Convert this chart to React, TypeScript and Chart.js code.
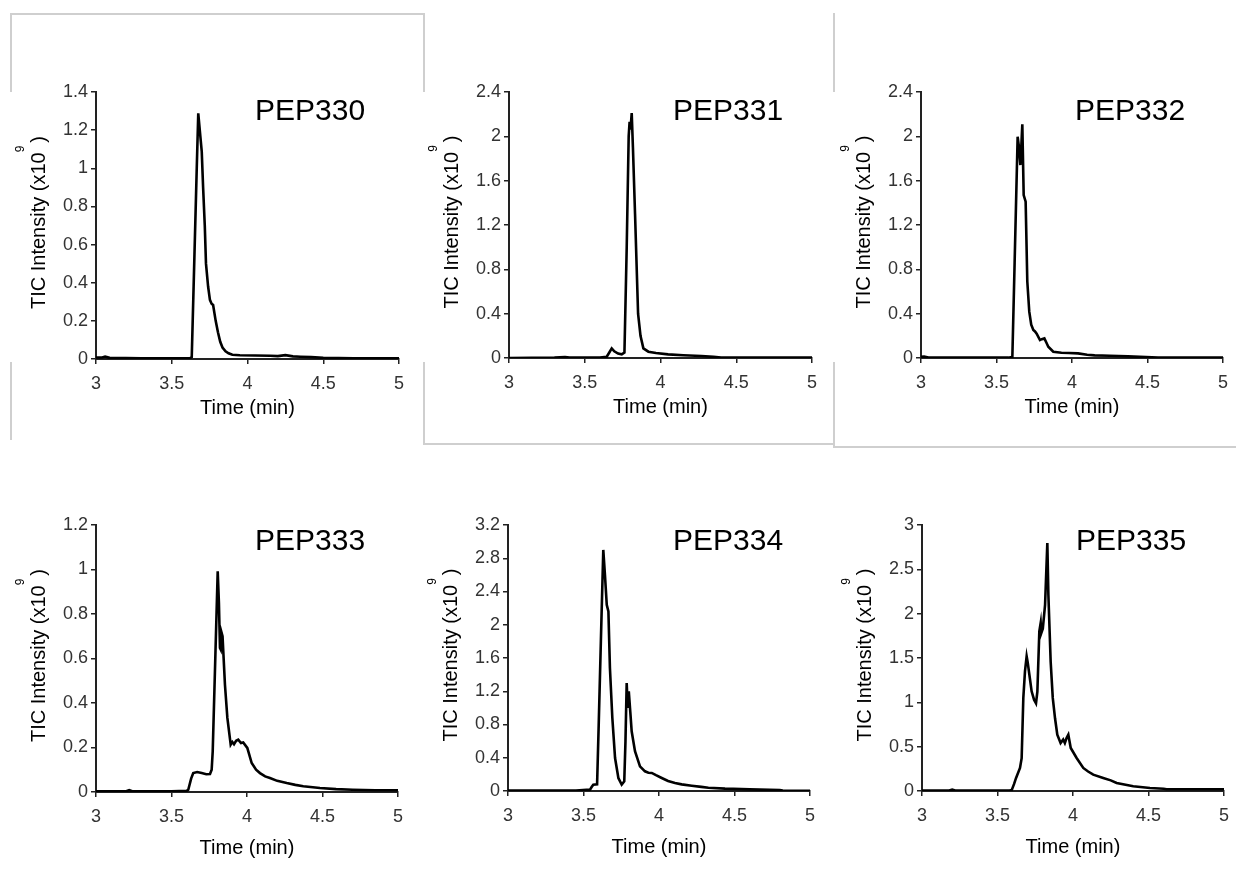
import React, { useEffect, useRef } from "react";
import { Chart, registerables } from "chart.js";

Chart.register(...registerables);

// ---------- data ----------
const X_TICKS = [3, 3.5, 4, 4.5, 5];

const T330 = [3.0, 3.04, 3.06, 3.09, 3.3, 3.5, 3.62, 3.632, 3.65, 3.665, 3.675, 3.685, 3.698, 3.707, 3.718, 3.726, 3.74, 3.752, 3.763, 3.773, 3.79, 3.805, 3.82, 3.835, 3.855, 3.875, 3.9, 3.95, 4.05, 4.15, 4.2, 4.25, 4.3, 4.35, 4.42, 4.5, 4.7, 5.0];
const V330 = [0.008, 0.008, 0.012, 0.006, 0.004, 0.004, 0.004, 0.01, 0.55, 1.0, 1.288, 1.2, 1.087, 0.9, 0.7, 0.5, 0.38, 0.31, 0.29, 0.283, 0.2, 0.14, 0.09, 0.06, 0.04, 0.03, 0.022, 0.02, 0.018, 0.017, 0.015, 0.02, 0.014, 0.012, 0.01, 0.006, 0.004, 0.004];

const T331 = [3.0, 3.3, 3.37, 3.4, 3.6, 3.645, 3.662, 3.678, 3.695, 3.72, 3.744, 3.762, 3.777, 3.79, 3.796, 3.802, 3.81, 3.818, 3.832, 3.852, 3.868, 3.887, 3.92, 3.97, 4.05, 4.15, 4.27, 4.35, 4.4, 5.0];
const V331 = [0.0, 0.003, 0.008, 0.004, 0.005, 0.012, 0.05, 0.087, 0.06, 0.04, 0.033, 0.05, 1.0, 2.0, 2.13, 2.06, 2.21, 1.9, 1.3, 0.4, 0.2, 0.087, 0.057, 0.045, 0.033, 0.025, 0.018, 0.01, 0.004, 0.003];

const T332 = [3.0, 3.02, 3.05, 3.3, 3.58, 3.605, 3.62, 3.64, 3.649, 3.658, 3.664, 3.671, 3.68, 3.693, 3.704, 3.717, 3.73, 3.744, 3.755, 3.766, 3.788, 3.8, 3.817, 3.83, 3.843, 3.876, 3.93, 3.98, 4.04, 4.1, 4.15, 4.25, 4.37, 4.45, 4.57, 4.6, 5.0];
const V332 = [0.01, 0.012, 0.004, 0.003, 0.003, 0.01, 0.86, 1.997, 1.9, 1.741, 1.9, 2.108, 1.47, 1.41, 0.69, 0.418, 0.3, 0.253, 0.24, 0.22, 0.162, 0.17, 0.177, 0.14, 0.102, 0.057, 0.048, 0.045, 0.042, 0.03, 0.024, 0.02, 0.015, 0.01, 0.005, 0.003, 0.003];

const T333 = [3.0, 3.2, 3.22, 3.24, 3.5, 3.6, 3.611, 3.63, 3.644, 3.67, 3.7, 3.73, 3.755, 3.766, 3.773, 3.79, 3.806, 3.814, 3.821, 3.826, 3.832, 3.838, 3.854, 3.87, 3.892, 3.903, 3.914, 3.928, 3.942, 3.96, 3.975, 4.002, 4.031, 4.06, 4.086, 4.12, 4.152, 4.2, 4.263, 4.32, 4.373, 4.483, 4.59, 4.7, 4.85, 5.0];
const V333 = [0.003, 0.003, 0.008, 0.003, 0.003, 0.005, 0.01, 0.06, 0.085, 0.09, 0.085, 0.08, 0.081, 0.1, 0.183, 0.6, 0.992, 0.85, 0.647, 0.64, 0.715, 0.7, 0.482, 0.333, 0.213, 0.225, 0.215, 0.23, 0.235, 0.22, 0.223, 0.198, 0.13, 0.1, 0.085, 0.07, 0.063, 0.05, 0.04, 0.032, 0.026, 0.018, 0.013, 0.01, 0.008, 0.008];

const T334 = [3.0, 3.3, 3.45, 3.543, 3.555, 3.565, 3.59, 3.6, 3.615, 3.631, 3.642, 3.654, 3.665, 3.675, 3.691, 3.709, 3.731, 3.753, 3.77, 3.778, 3.786, 3.793, 3.8, 3.81, 3.819, 3.841, 3.874, 3.907, 3.93, 3.952, 3.98, 4.018, 4.06, 4.106, 4.15, 4.217, 4.28, 4.327, 4.437, 4.6, 4.8, 4.82, 5.0];
const V334 = [0.005, 0.004, 0.005, 0.016, 0.05, 0.076, 0.08, 0.75, 1.8, 2.9, 2.6, 2.24, 2.16, 1.48, 0.878, 0.397, 0.156, 0.076, 0.116, 0.6, 1.3, 1.0, 1.2, 0.95, 0.718, 0.48, 0.297, 0.237, 0.22, 0.217, 0.19, 0.156, 0.12, 0.096, 0.08, 0.064, 0.05, 0.04, 0.028, 0.02, 0.01, 0.005, 0.003];

const T335 = [3.0, 3.18, 3.2, 3.22, 3.5, 3.58, 3.594, 3.61, 3.623, 3.649, 3.66, 3.671, 3.682, 3.693, 3.7, 3.712, 3.726, 3.742, 3.755, 3.764, 3.777, 3.786, 3.79, 3.8, 3.815, 3.83, 3.837, 3.852, 3.866, 3.881, 3.896, 3.918, 3.935, 3.946, 3.958, 3.969, 3.985, 4.024, 4.068, 4.1, 4.134, 4.2, 4.25, 4.289, 4.399, 4.51, 4.6, 4.62, 4.8, 5.0];
const V335 = [0.005, 0.005, 0.015, 0.005, 0.004, 0.005, 0.01, 0.08, 0.147, 0.26, 0.37, 1.049, 1.35, 1.519, 1.45, 1.3, 1.124, 1.03, 0.99, 1.12, 1.8, 1.895, 1.78, 1.83, 2.1, 2.797, 2.21, 1.46, 1.05, 0.82, 0.635, 0.541, 0.58, 0.54, 0.6, 0.635, 0.485, 0.372, 0.26, 0.22, 0.184, 0.147, 0.12, 0.09, 0.053, 0.034, 0.025, 0.02, 0.02, 0.02];

const Y_TICKS_330 = [0, 0.2, 0.4, 0.6, 0.8, 1, 1.2, 1.4];
const Y_TICKS_331 = [0, 0.4, 0.8, 1.2, 1.6, 2, 2.4];
const Y_TICKS_332 = [0, 0.4, 0.8, 1.2, 1.6, 2, 2.4];
const Y_TICKS_333 = [0, 0.2, 0.4, 0.6, 0.8, 1, 1.2];
const Y_TICKS_334 = [0, 0.4, 0.8, 1.2, 1.6, 2, 2.4, 2.8, 3.2];
const Y_TICKS_335 = [0, 0.5, 1, 1.5, 2, 2.5, 3];

const NAMES = ["PEP330", "PEP331", "PEP332", "PEP333", "PEP334", "PEP335"];
const X_TITLE = "Time (min)";
const Y_TITLE_MAIN = "TIC Intensity (x10";
const Y_TITLE_SUP = "9";
const Y_TITLE_END = ")";

// ---------- layout ----------
const FONT = "'Liberation Sans', Arial, Helvetica, sans-serif";
const AXIS_W = 92;
const AXIS_H = 72;
const PAD_TOP = 20;
const PAD_RIGHT = 16;

const PANELS = [
  { name: NAMES[0], t: T330, v: V330, ticks: Y_TICKS_330, pl: 96, pt: 92, pr: 399, pb: 359, tdx: 159, tdy: 28, xdy: 55 },
  { name: NAMES[1], t: T331, v: V331, ticks: Y_TICKS_331, pl: 509, pt: 92, pr: 812, pb: 358, tdx: 164, tdy: 28, xdy: 55 },
  { name: NAMES[2], t: T332, v: V332, ticks: Y_TICKS_332, pl: 921, pt: 92, pr: 1223, pb: 358, tdx: 154, tdy: 28, xdy: 55 },
  { name: NAMES[3], t: T333, v: V333, ticks: Y_TICKS_333, pl: 96, pt: 525, pr: 398, pb: 792, tdx: 159, tdy: 25, xdy: 62 },
  { name: NAMES[4], t: T334, v: V334, ticks: Y_TICKS_334, pl: 508, pt: 525, pr: 810, pb: 791, tdx: 165, tdy: 25, xdy: 62 },
  { name: NAMES[5], t: T335, v: V335, ticks: Y_TICKS_335, pl: 922, pt: 525, pr: 1224, pb: 791, tdx: 154, tdy: 25, xdy: 62 },
];

const FRAME = "#cfcfcf";
const FRAME_LINES = [
  { l: 10, t: 13, w: 413, h: 2 },
  { l: 10, t: 13, w: 2, h: 79 },
  { l: 10, t: 362, w: 2, h: 78 },
  { l: 423, t: 13, w: 2, h: 79 },
  { l: 423, t: 362, w: 2, h: 82 },
  { l: 833, t: 13, w: 2, h: 79 },
  { l: 833, t: 362, w: 2, h: 85 },
  { l: 423, t: 443, w: 410, h: 2 },
  { l: 833, t: 446, w: 403, h: 2 },
];

function Panel({ p }: { p: any }) {
  const ref = useRef<HTMLCanvasElement | null>(null);
  const left = p.pl - AXIS_W;
  const top = p.pt - PAD_TOP;
  const width = p.pr - p.pl + AXIS_W + PAD_RIGHT;
  const height = p.pb - p.pt + PAD_TOP + AXIS_H;

  useEffect(() => {
    if (!ref.current) return;
    const labelsPlugin = {
      id: "panelLabels",
      afterDraw(chart: any) {
        const { ctx, chartArea: a } = chart;
        ctx.save();
        ctx.fillStyle = "#000";
        // panel name
        ctx.font = `30px ${FONT}`;
        ctx.textAlign = "left";
        ctx.textBaseline = "alphabetic";
        ctx.fillText(p.name, a.left + p.tdx, a.top + p.tdy);
        // x title
        ctx.font = `20px ${FONT}`;
        ctx.textAlign = "center";
        ctx.fillText(X_TITLE, (a.left + a.right) / 2, a.bottom + p.xdy);
        // y title with superscript
        const cy = (a.top + a.bottom) / 2 - 3;
        ctx.translate(a.left - 51, cy);
        ctx.rotate(-Math.PI / 2);
        ctx.textAlign = "left";
        ctx.font = `20px ${FONT}`;
        const w1 = ctx.measureText(Y_TITLE_MAIN).width;
        const w3 = ctx.measureText(Y_TITLE_END).width;
        ctx.font = `12px ${FONT}`;
        const w2 = ctx.measureText(Y_TITLE_SUP).width;
        const gap = 3;
        const total = w1 + w2 + gap + w3;
        const x0 = -total / 2;
        ctx.font = `20px ${FONT}`;
        ctx.fillText(Y_TITLE_MAIN, x0, 0);
        ctx.font = `12px ${FONT}`;
        ctx.fillText(Y_TITLE_SUP, x0 + w1, -21);
        ctx.font = `20px ${FONT}`;
        ctx.fillText(Y_TITLE_END, x0 + w1 + w2 + gap, 0);
        ctx.restore();
      },
    };

    const tickFont = { family: FONT, size: 18 };
    const chart = new Chart(ref.current, {
      type: "line",
      data: {
        datasets: [
          {
            data: p.t.map((t: number, i: number) => ({ x: t, y: p.v[i] })),
            borderColor: "#000",
            borderWidth: 2.6,
            pointRadius: 0,
            fill: false,
            tension: 0,
          },
        ],
      },
      options: {
        animation: false,
        responsive: false,
        maintainAspectRatio: false,
        events: [],
        layout: { padding: { left: 0, top: PAD_TOP, right: PAD_RIGHT, bottom: 0 } },
        plugins: { legend: { display: false }, tooltip: { enabled: false }, title: { display: false } },
        scales: {
          x: {
            type: "linear",
            min: 3,
            max: 5,
            afterBuildTicks: (s: any) => {
              s.ticks = X_TICKS.map((v) => ({ value: v }));
            },
            afterFit: (s: any) => {
              s.height = AXIS_H;
            },
            ticks: {
              autoSkip: false,
              maxRotation: 0,
              padding: 9,
              color: "#333",
              font: tickFont,
              callback: (v: any) => String(v),
            },
            grid: { drawOnChartArea: false, drawTicks: true, tickLength: 5, color: "#222", lineWidth: 1.5 },
            border: { display: true, color: "#222", width: 2 },
          },
          y: {
            type: "linear",
            min: 0,
            max: p.ticks[p.ticks.length - 1],
            afterBuildTicks: (s: any) => {
              s.ticks = p.ticks.map((v: number) => ({ value: v }));
            },
            afterFit: (s: any) => {
              s.width = AXIS_W;
            },
            ticks: {
              autoSkip: false,
              padding: 3,
              color: "#333",
              font: tickFont,
              callback: (v: any) => String(v),
            },
            grid: { drawOnChartArea: false, drawTicks: true, tickLength: 5, color: "#222", lineWidth: 1.5 },
            border: { display: true, color: "#222", width: 2 },
          },
        },
      },
      plugins: [labelsPlugin],
    } as any);
    return () => chart.destroy();
  }, []);

  return (
    <canvas
      ref={ref}
      width={width}
      height={height}
      style={{ position: "absolute", left, top, width, height }}
    />
  );
}

export default function App() {
  return (
    <div
      style={{
        position: "absolute",
        left: 0,
        top: 0,
        width: 1236,
        height: 874,
        background: "#fff",
        overflow: "hidden",
      }}
    >
      {FRAME_LINES.map((f, i) => (
        <div
          key={i}
          style={{ position: "absolute", left: f.l, top: f.t, width: f.w, height: f.h, background: FRAME }}
        />
      ))}
      {PANELS.map((p) => (
        <Panel key={p.name} p={p} />
      ))}
    </div>
  );
}
